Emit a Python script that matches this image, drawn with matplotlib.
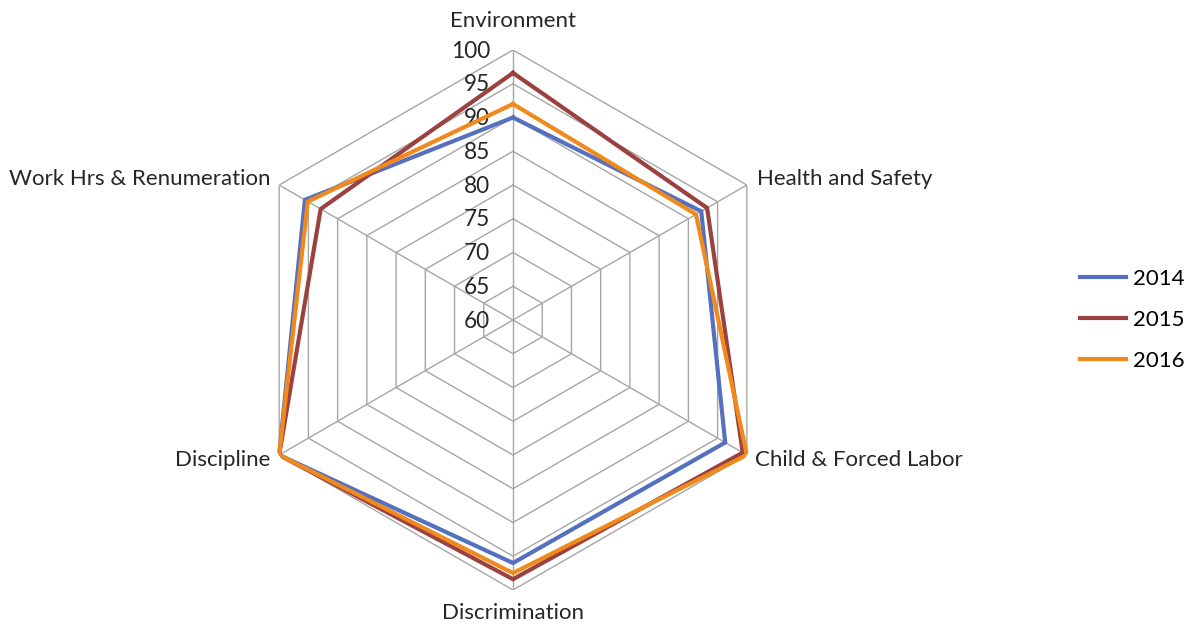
import numpy as np
import matplotlib
matplotlib.use("Agg")
import matplotlib.pyplot as plt
from matplotlib.lines import Line2D

plt.rcParams['font.family'] = ['Lato', 'DejaVu Sans']

categories = ["Environment", "Health and Safety", "Child & Forced Labor",
              "Discrimination", "Discipline", "Work Hrs & Renumeration"]
series_names = ["2014", "2015", "2016"]
scores_2014 = [90, 92.2, 96.3, 96, 100, 95.6]
scores_2015 = [96.6, 93.2, 99.3, 98.4, 100, 92.9]
scores_2016 = [92, 91.3, 100, 97.5, 100, 95.1]
tick_values = [60, 65, 70, 75, 80, 85, 90, 95, 100]

colors = ["#5470BE", "#9B4240", "#F08A1C"]
grid_color = "#A6A6A6"

W, H, DPI = 1191, 628, 100
fig = plt.figure(figsize=(W / DPI, H / DPI), dpi=DPI)

cx, cy, R = 513, 320, 270
ax = fig.add_axes([(cx - R) / W, (H - cy - R) / H, 2 * R / W, 2 * R / H],
                  projection="polar")
ax.set_theta_offset(np.pi / 2)
ax.set_theta_direction(-1)
ax.set_ylim(60, 100)
ax.grid(False)
ax.spines["polar"].set_visible(False)
ax.set_xticks([])
ax.set_yticks([])
ax.patch.set_alpha(0)

n = len(categories)
theta = np.arange(n) * 2 * np.pi / n
theta_closed = np.append(theta, theta[0])

# hexagonal grid rings and spokes
for v in tick_values[1:]:
    ax.plot(theta_closed, [v] * (n + 1), color=grid_color, lw=1.0, zorder=1)
for t in theta:
    ax.plot([t, t], [60, 100], color=grid_color, lw=1.0, zorder=1)

# radial value labels along the top spoke
for v in tick_values:
    ax.annotate(str(v), xy=(0, v), xytext=(-23, -1), textcoords="offset pixels",
                ha="right", va="center", fontsize=16.3, color="#262626",
                annotation_clip=False)

# category labels
offsets = [(0, 29, "center"), (10, 6, "left"), (8, -5, "left"),
           (0, -23, "center"), (-9, -5, "right"), (-9, 6, "right")]
for t, name, (dx, dy, ha) in zip(theta, categories, offsets):
    ax.annotate(name, xy=(t, 100), xytext=(dx, dy), textcoords="offset pixels",
                ha=ha, va="center", fontsize=16, color="#262626",
                annotation_clip=False)

handles = []
for vals, c, lab in zip([scores_2014, scores_2015, scores_2016], colors, series_names):
    ax.plot(theta_closed, list(vals) + [vals[0]], color=c, lw=3.0, zorder=3,
            solid_joinstyle="miter")
    handles.append(Line2D([0], [0], color=c, lw=3.0))

fig.legend(handles, series_names, loc="center left",
           bbox_to_anchor=(1080 / W, 1 - 320 / H), frameon=False,
           borderaxespad=0, borderpad=0,
           fontsize=16, handlelength=2.05, handletextpad=0.35, labelspacing=0.95)

fig.savefig("out.png", dpi=DPI)
